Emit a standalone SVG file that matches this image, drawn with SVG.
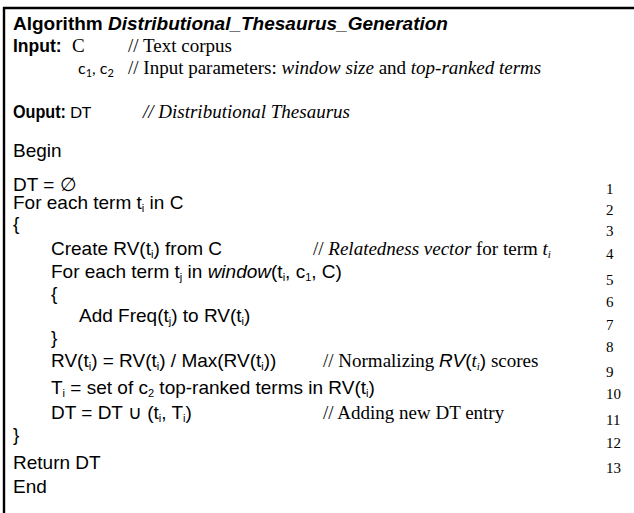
<svg xmlns="http://www.w3.org/2000/svg" width="634" height="513" viewBox="0 0 634 513">
<style>
.s{font-family:"Liberation Sans",Arial,sans-serif;font-size:19px;fill:#000}
.b{font-weight:bold}
.i{font-style:italic}
.lbl{font-family:"Liberation Sans",Arial,sans-serif;font-size:17.5px;font-weight:bold;fill:#000}
.r{font-family:"Liberation Serif","Times New Roman",serif;font-size:19px;fill:#000}
.c{font-family:Lato,"Open Sans",sans-serif;font-size:16px;fill:#000}
.n{font-family:"Liberation Serif","Times New Roman",serif;font-size:15px;fill:#000}
.sub{font-size:11px}
</style>
<rect width="634" height="513" fill="#fff"/>
<g id="frame" stroke="#000" stroke-width="2.4" fill="none">
<line x1="3" y1="8" x2="634" y2="8"/>
<line x1="4" y1="7" x2="4" y2="513"/>
</g>
<g id="header">
<text class="s b" x="13" y="30">Algorithm <tspan class="i">Distributional_Thesaurus_Generation</tspan></text>
<text class="lbl" x="13" y="52">Input:</text>
<text class="r" x="72" y="52">C</text>
<text class="r" x="128" y="52">// Text corpus</text>
<text class="c" x="78" y="74">c<tspan font-size="11" dy="3">1</tspan><tspan dy="-3">, c</tspan><tspan font-size="11" dy="3">2</tspan></text>
<text class="r" x="128" y="74">// Input parameters: <tspan class="i">window size</tspan> and <tspan class="i">top-ranked terms</tspan></text>
<text class="lbl" x="13" y="118" textLength="53" lengthAdjust="spacingAndGlyphs">Ouput:</text>
<text class="c" x="70" y="118">DT</text>
<text class="r i" x="143" y="118">// Distributional Thesaurus</text>
<text class="s" x="13" y="157">Begin</text>
</g>
<g id="body">
<text class="s" x="13" y="191">DT = ∅</text>
<text class="s" x="13" y="209">For each term t<tspan class="sub" dy="3">i</tspan><tspan dy="-3"> in C</tspan></text>
<text class="s" x="13" y="230">{</text>
<text class="s" x="51" y="255">Create RV(t<tspan class="sub" dy="3">i</tspan><tspan dy="-3">) from C</tspan></text>
<text class="r" x="313" y="255">// <tspan class="i">Relatedness vector</tspan> for term <tspan class="i">t</tspan><tspan class="i sub" dy="3">i</tspan></text>
<text class="s" x="51" y="278">For each term t<tspan class="sub" dy="3">j</tspan><tspan dy="-3"> in </tspan><tspan class="i">window</tspan>(t<tspan class="sub" dy="3">i</tspan><tspan dy="-3">, c</tspan><tspan class="sub" dy="3">1</tspan><tspan dy="-3">, C)</tspan></text>
<text class="s" x="51" y="300">{</text>
<text class="s" x="79" y="322">Add Freq(t<tspan class="sub" dy="3">j</tspan><tspan dy="-3">) to RV(t</tspan><tspan class="sub" dy="3">i</tspan><tspan dy="-3">)</tspan></text>
<text class="s" x="51" y="344">}</text>
<text class="s" x="51" y="367">RV(t<tspan class="sub" dy="3">i</tspan><tspan dy="-3">) = RV(t</tspan><tspan class="sub" dy="3">i</tspan><tspan dy="-3">) / Max(RV(t</tspan><tspan class="sub" dy="3">i</tspan><tspan dy="-3">))</tspan></text>
<text class="r" x="323" y="367">// Normalizing <tspan class="s i">RV</tspan><tspan class="s">(</tspan><tspan class="i">t</tspan><tspan class="i sub" dy="3">i</tspan><tspan class="s" dy="-3">)</tspan> scores</text>
<text class="s" x="51" y="394">T<tspan class="sub" dy="3">i</tspan><tspan dy="-3"> = set of c</tspan><tspan class="sub" dy="3">2</tspan><tspan dy="-3"> top-ranked terms in RV(t</tspan><tspan class="sub" dy="3">i</tspan><tspan dy="-3">)</tspan></text>
<text class="s" x="51" y="419">DT = DT ∪ (t<tspan class="sub" dy="3">i</tspan><tspan dy="-3">, T</tspan><tspan class="sub" dy="3">i</tspan><tspan dy="-3">)</tspan></text>
<text class="r" x="323" y="419">// Adding new DT entry</text>
<text class="s" x="13" y="441">}</text>
<text class="s" x="13" y="469">Return DT</text>
<text class="s" x="13" y="493">End</text>
</g>
<g id="line-numbers">
<text class="n" x="606" y="194">1</text>
<text class="n" x="606" y="215">2</text>
<text class="n" x="606" y="236">3</text>
<text class="n" x="606" y="259">4</text>
<text class="n" x="606" y="285">5</text>
<text class="n" x="606" y="307">6</text>
<text class="n" x="606" y="330">7</text>
<text class="n" x="606" y="352">8</text>
<text class="n" x="606" y="377">9</text>
<text class="n" x="606" y="399">10</text>
<text class="n" x="606" y="425">11</text>
<text class="n" x="606" y="448">12</text>
<text class="n" x="606" y="473">13</text>
</g>
</svg>
